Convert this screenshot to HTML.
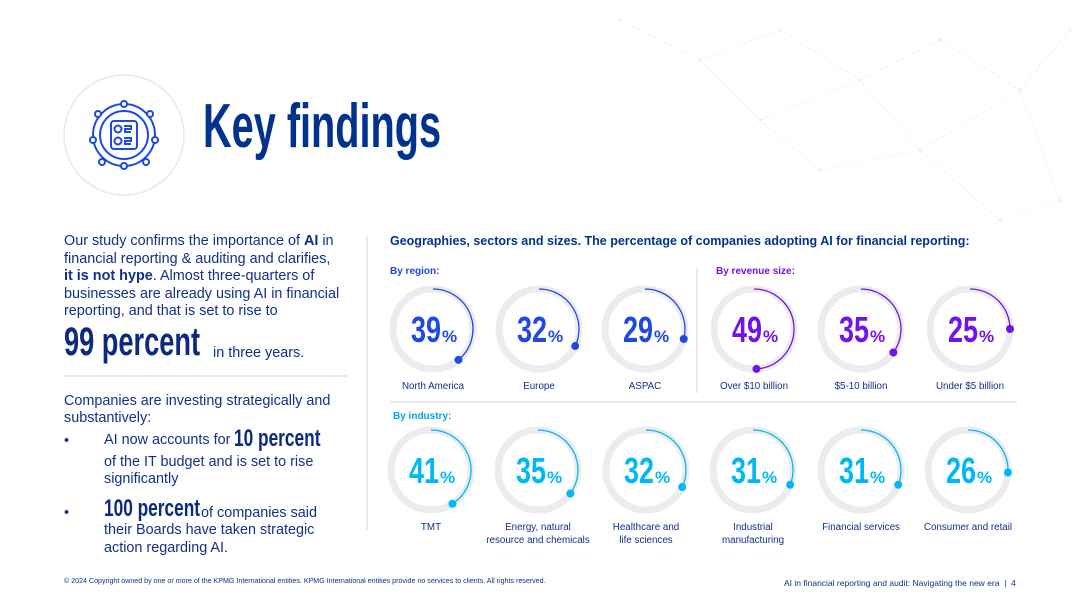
<!DOCTYPE html>
<html><head><meta charset="utf-8">
<style>
html,body{margin:0;padding:0;background:#fff;}
#page{position:relative;width:1080px;height:608px;overflow:hidden;background:#fff;font-family:"Liberation Sans",sans-serif;color:#0c2a80;}
.t{position:absolute;white-space:nowrap;font-size:14.4px;line-height:17px;color:#12308a;}
.cond{font-family:"Liberation Sans Narrow","Liberation Sans",sans-serif;font-weight:bold;display:inline-block;transform-origin:left bottom;color:#0c2a80;}
.small{position:absolute;font-size:10px;color:#12308a;white-space:nowrap;}
</style></head>
<body>
<div id="page">
<svg width="1080" height="608" style="position:absolute;left:0;top:0">
  <g stroke="#eef0f5" stroke-width="0.6" fill="#eceff5">
    <line x1="620" y1="20" x2="700" y2="60"/><line x1="700" y1="60" x2="780" y2="30"/><line x1="780" y1="30" x2="860" y2="80"/>
    <line x1="860" y1="80" x2="940" y2="40"/><line x1="940" y1="40" x2="1020" y2="90"/><line x1="1020" y1="90" x2="1070" y2="30"/>
    <line x1="700" y1="60" x2="760" y2="120"/><line x1="760" y1="120" x2="860" y2="80"/><line x1="860" y1="80" x2="920" y2="150"/>
    <line x1="920" y1="150" x2="1020" y2="90"/><line x1="1020" y1="90" x2="1060" y2="200"/><line x1="920" y1="150" x2="1000" y2="220"/>
    <line x1="760" y1="120" x2="820" y2="170"/><line x1="820" y1="170" x2="920" y2="150"/><line x1="1000" y1="220" x2="1060" y2="200"/>
    <circle cx="620" cy="20" r="1.5"/><circle cx="700" cy="60" r="1.5"/><circle cx="780" cy="30" r="1.5"/><circle cx="860" cy="80" r="1.5"/>
    <circle cx="940" cy="40" r="1.5"/><circle cx="1020" cy="90" r="1.5"/><circle cx="1070" cy="30" r="1.5"/><circle cx="760" cy="120" r="1.5"/>
    <circle cx="920" cy="150" r="1.5"/><circle cx="1060" cy="200" r="1.5"/><circle cx="1000" cy="220" r="1.5"/><circle cx="820" cy="170" r="1.5"/>
  </g>
  <circle cx="124" cy="135" r="60" fill="#fff" stroke="#e8e8ec" stroke-width="1.5"/>
  <g fill="none" stroke="#1e49e2" stroke-width="2">
    <circle cx="124" cy="135" r="31"/><circle cx="124" cy="135" r="24"/>
    <rect x="111" y="121" width="26" height="28" rx="3"/>
    <circle cx="118" cy="129" r="3.5"/><circle cx="118" cy="141" r="3.5"/>
    <path d="M124 126h7v3h-6v3h6M124 138h7v3h-6v3h6"/>
    <circle cx="98" cy="114" r="3" fill="#fff"/><circle cx="150" cy="114" r="3" fill="#fff"/><circle cx="93" cy="140" r="3" fill="#fff"/><circle cx="155" cy="140" r="3" fill="#fff"/>
    <circle cx="124" cy="104" r="3" fill="#fff"/><circle cx="124" cy="166" r="3" fill="#fff"/><circle cx="102" cy="162" r="3" fill="#fff"/><circle cx="146" cy="162" r="3" fill="#fff"/>
  </g>
  <line x1="64" y1="376" x2="348" y2="376" stroke="#d4d6dc" stroke-width="1"/>
  <line x1="367" y1="236" x2="367" y2="530" stroke="#d4d6dc" stroke-width="1"/>
  <line x1="697" y1="268" x2="697" y2="393" stroke="#d4d6dc" stroke-width="1"/>
  <line x1="390" y1="402" x2="1017" y2="402" stroke="#d4d6dc" stroke-width="1"/>
  <g id="rings"></g>
</svg>

<div class="t" style="left:203px;top:92px;font-size:62px;line-height:70px;"><span class="cond" style="transform:scaleX(0.64);color:#00338d">Key findings</span></div>

<div class="t" style="left:64px;top:233px">Our study confirms the importance of <b>AI</b> in</div>
<div class="t" style="left:64px;top:251px">financial reporting &amp; auditing and clarifies,</div>
<div class="t" style="left:64px;top:268px"><b>it is not hype</b>. Almost three-quarters of</div>
<div class="t" style="left:64px;top:286px">businesses are already using AI in financial</div>
<div class="t" style="left:64px;top:303px">reporting, and that is set to rise to</div>
<div class="t" style="left:64px;top:320px;font-size:40px;line-height:44px"><span class="cond" style="transform:scaleX(0.68)">99 percent</span></div>
<div class="t" style="left:213px;top:345px">in three years.</div>

<div class="t" style="left:64px;top:393px">Companies are investing strategically and</div>
<div class="t" style="left:64px;top:410px">substantively:</div>
<div class="t" style="left:64px;top:433px">•</div>
<div class="t" style="left:104px;top:426px;font-size:24px;line-height:26px;left:104px"><span style="font-size:14.4px;vertical-align:2px">AI now accounts for </span><span class="cond" style="transform:scaleX(0.72)">10 percent</span></div>
<div class="t" style="left:104px;top:454px">of the IT budget and is set to rise</div>
<div class="t" style="left:104px;top:471px">significantly</div>
<div class="t" style="left:64px;top:505px">•</div>
<div class="t" style="left:104px;top:496px;font-size:24px;line-height:26px"><span class="cond" style="transform:scaleX(0.72)">100 percent</span></div>
<div class="t" style="left:201px;top:505px">of companies said</div>
<div class="t" style="left:104px;top:522px">their Boards have taken strategic</div>
<div class="t" style="left:104px;top:540px">action regarding AI.</div>

<div class="t" style="left:390px;top:233px;font-size:12.5px;font-weight:bold;color:#00338d">Geographies, sectors and sizes. The percentage of companies adopting AI for financial reporting:</div>
<div class="t" style="left:390px;top:263px;font-size:10px;font-weight:bold;color:#1e49e2">By region:</div>
<div class="t" style="left:716px;top:263px;font-size:10px;font-weight:bold;color:#7213ea">By revenue size:</div>
<div class="t" style="left:393px;top:408px;font-size:10px;font-weight:bold;color:#00a8e8">By industry:</div>

<div class="small" style="left:64px;top:577px;font-size:7.1px">© 2024 Copyright owned by one or more of the KPMG International entities. KPMG International entities provide no services to clients. All rights reserved.</div>
<div class="small" style="left:784px;top:578px;font-size:8.5px">AI in financial reporting and audit: Navigating the new era &nbsp;|&nbsp; 4</div>

<script>
const categories = ["North America","Europe","ASPAC","Over $10 billion","$5-10 billion","Under $5 billion","TMT","Energy, natural|resource and chemicals","Healthcare and|life sciences","Industrial|manufacturing","Financial services","Consumer and retail"];
const values = [39,32,29,49,35,25,41,35,32,31,31,26];
const groups = ["region","region","region","revenue","revenue","revenue","industry","industry","industry","industry","industry","industry"];
const groupColors = {region:"#1e49e2",revenue:"#7213ea",industry:"#00b8f5"};
const xCenters = [433,539,645,754,861,970,431,538,646,753,861,968];
const NS="http://www.w3.org/2000/svg";
const g=document.getElementById('rings');
const R=40;
function angle(v){return v/100*2*Math.PI;}
function mk(t,a){const e=document.createElementNS(NS,t);for(const k in a)e.setAttribute(k,a[k]);return e;}
values.forEach((v,i)=>{
  const cx=xCenters[i], cy = i<6?329:470, col=groupColors[groups[i]];
  const grp=mk('g',{});
  
  
  grp.appendChild(mk('circle',{cx:cx,cy:cy,r:R,fill:'#fff',stroke:'#ececee','stroke-width':7}));
  const a=angle(v);
  const ex=cx+R*Math.sin(a), ey=cy-R*Math.cos(a);
  grp.appendChild(mk('path',{d:`M${cx} ${cy-R} A${R} ${R} 0 ${a>Math.PI?1:0} 1 ${ex} ${ey}`,fill:'none',stroke:col,'stroke-width':1.3}));
  grp.appendChild(mk('circle',{cx:ex,cy:ey,r:4,fill:col}));
  const tx=mk('text',{x:cx-22,y:cy+13,fill:col,'font-family':'Liberation Sans Narrow, Liberation Sans, sans-serif','font-weight':'bold','font-size':36,textLength:30,lengthAdjust:'spacingAndGlyphs'});
  tx.textContent=v;
  grp.appendChild(tx);
  const pc=mk('text',{x:cx+9,y:cy+13,fill:col,'font-family':'Liberation Sans, sans-serif','font-weight':'bold','font-size':17});
  pc.textContent='%';
  grp.appendChild(pc);
  categories[i].split('|').forEach((ln,j)=>{
    const lt=mk('text',{x:cx,y:(i<6?389:530)+j*13,fill:'#12308a','font-family':'Liberation Sans, sans-serif','font-size':9.8,'text-anchor':'middle'});
    lt.textContent=ln;
    grp.appendChild(lt);
  });
  g.appendChild(grp);
});
</script>
</div>
</body></html>
